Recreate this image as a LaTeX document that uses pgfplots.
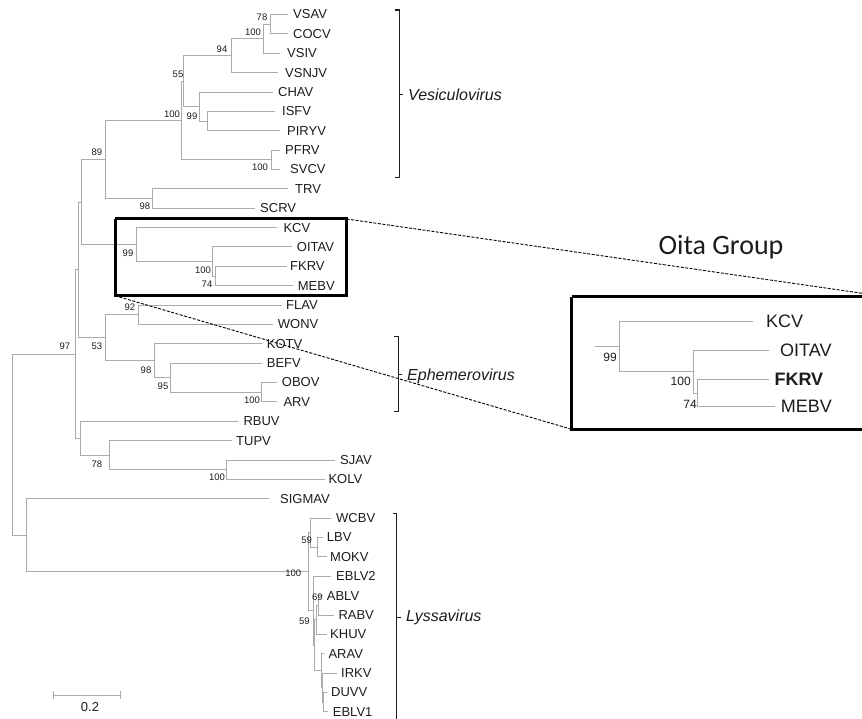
\documentclass[border=0pt]{standalone}
\usepackage{pgfplots}
\usepackage{pgfplotstable}
\pgfplotsset{compat=1.18}
\usepackage{fontspec}
\setmainfont{Liberation Sans}
\newfontfamily\carlito{Carlito}
\definecolor{branch}{HTML}{ABABAB}
\definecolor{ink}{HTML}{1C1C1C}

% tree branches: one elbow per internal node, separated by nan
\pgfplotstableread{
x y
288 14.5
270 14.5
270 33.9
288 33.9
nan nan
270 24.2
263.3 24.2
263.3 53.2
280 53.2
nan nan
263.3 38.7
231 38.7
231 72.6
278 72.6
nan nan
275 111.4
207.3 111.4
207.3 130.7
280 130.7
nan nan
273 92
199.3 92
199.3 121.05
207.3 121.05
nan nan
231 55.65
183.3 55.65
183.3 106.5
199.3 106.5
nan nan
280 150.1
271.7 150.1
271.7 169.5
280 169.5
nan nan
183.3 81.1
181.7 81.1
181.7 159.8
271.7 159.8
nan nan
288 188.8
152.7 188.8
152.7 208.2
255 208.2
nan nan
181.7 120.45
105 120.45
105 198.5
152.7 198.5
nan nan
286.7 266.3
215 266.3
215 285.7
293.3 285.7
nan nan
291.7 246.9
212 246.9
212 276
215 276
nan nan
276.7 227.6
136.7 227.6
136.7 261.45
212 261.45
nan nan
105 159.5
81 159.5
81 244.5
136.7 244.5
nan nan
281.7 305.1
138.3 305.1
138.3 324.4
273.3 324.4
nan nan
276.7 382.5
261.7 382.5
261.7 401.9
276.7 401.9
nan nan
261.7 363.2
170.7 363.2
170.7 392.2
261.7 392.2
nan nan
261.7 343.8
154.3 343.8
154.3 377.7
170.7 377.7
nan nan
138.3 314.75
105.3 314.75
105.3 360.75
154.3 360.75
nan nan
81 202
78.3 202
78.3 337.75
105.3 337.75
nan nan
335 460
226.7 460
226.7 479.4
325 479.4
nan nan
231.7 440.6
109.3 440.6
109.3 469.7
226.7 469.7
nan nan
238.3 421.3
80 421.3
80 455.15
109.3 455.15
nan nan
78.3 269.9
75 269.9
75 438.2
80 438.2
nan nan
322.7 537.5
317 537.5
317 556.9
326.7 556.9
nan nan
330.7 518.1
310 518.1
310 547.2
317 547.2
nan nan
323.3 595.6
318 595.6
318 615
334 615
nan nan
318 605.3
316 605.3
316 634.4
326.7 634.4
nan nan
326.7 692.5
323.3 692.5
323.3 711.8
328.3 711.8
nan nan
336.7 673.1
322.7 673.1
322.7 702.15
323.3 702.15
nan nan
324 653.7
321.7 653.7
321.7 687.6
322.7 687.6
nan nan
316 619.85
314.5 619.85
314.5 670.65
321.7 670.65
nan nan
330.7 576.2
313 576.2
313 645.25
314.5 645.25
nan nan
310 532.65
308.3 532.65
308.3 610.7
313 610.7
nan nan
269.3 498.8
26 498.8
26 571.7
308.3 571.7
nan nan
75 354.05
12.3 354.05
12.3 535.25
26 535.25
nan nan
769.3 379.3
697.7 379.3
697.7 406.7
775 406.7
nan nan
769.3 350.7
693.3 350.7
693.3 393
697.7 393
nan nan
753.3 321.7
619.3 321.7
619.3 371.85
693.3 371.85
nan nan
619.3 346.8
595 346.8
nan nan
53.3 695
120 695
nan nan
53.3 691
53.3 699
nan nan
120 691
120 699
}\branches

\pgfplotstableread{
x y label
293 14.5 VSAV
293 33.9 COCV
287 53.2 VSIV
285 72.6 VSNJV
278 92 CHAV
282 111.4 ISFV
287 130.7 PIRYV
285 150.1 PFRV
290 169.5 SVCV
295 188.8 TRV
260 208.2 SCRV
283.3 227.6 KCV
296.7 246.9 OITAV
290 266.3 FKRV
297.7 285.7 MEBV
286 305.1 FLAV
277.7 324.4 WONV
266.7 343.8 KOTV
266.7 363.2 BEFV
281.7 382.5 OBOV
283.3 401.9 ARV
243.3 421.3 RBUV
236 440.6 TUPV
340 460 SJAV
328.3 479.4 KOLV
280 498.8 SIGMAV
336 518.1 WCBV
326.7 537.5 LBV
330 556.9 MOKV
336 576.2 EBLV2
326.7 595.6 ABLV
338.3 615 RABV
330 634.4 KHUV
328.3 653.7 ARAV
341 673.1 IRKV
331 692.5 DUVV
332.7 711.8 EBLV1
}\leaves

\pgfplotstableread{
x y label
262 17 78
253 32 100
222 49 94
178 74 55
172 114 100
192 116 99
97 152 89
260 167 100
145 206 98
128 253.3 99
203 270 100
207 284 74
130 307.3 92
97 346.7 53
146 370 98
163 386 95
252 400.7 100
65 346.7 97
97 464 78
217 477.7 100
306.7 540 59
293.3 573 100
317.3 597.7 69
304.3 621 59
}\boots

\begin{document}
\begin{tikzpicture}
\begin{axis}[name=ax, scale only axis, width=862pt, height=719pt,
  xmin=0, xmax=862, ymin=0, ymax=719, y dir=reverse, hide axis,
  unbounded coords=jump]
% branches
\addplot[color=branch, line width=0.9pt, mark=none] table[x=x,y=y] {\branches};
% brackets
\addplot[color=ink, line width=1.3pt, mark=none] coordinates {(395,10) (399.3,10) (399.3,177.7) (395,177.7)};
\addplot[color=ink, line width=1.0pt, mark=none] coordinates {(399.3,95) (403,95)};
\addplot[color=ink, line width=1.3pt, mark=none] coordinates {(394,336.7) (398.3,336.7) (398.3,411.7) (394,411.7)};
\addplot[color=ink, line width=1.0pt, mark=none] coordinates {(398.3,374) (402,374)};
\addplot[color=ink, line width=1.3pt, mark=none] coordinates {(392.5,513.3) (396.7,513.3) (396.7,725)};
\addplot[color=ink, line width=1.0pt, mark=none] coordinates {(396.7,617.3) (400.5,617.3)};
% boxes
\addplot[color=black, line width=3pt, mark=none] coordinates {(115,219) (346.7,219) (346.7,295.7) (115,295.7) (115,219)};
\addplot[color=black, line width=3pt, mark=none] coordinates {(571.7,296.7) (890,296.7) (890,429.3) (571.7,429.3) (571.7,296.7)};
% dashed connectors
\addplot[color=black, line width=0.9pt, dash pattern=on 3pt off 1.5pt, mark=none] coordinates {(346.7,219) (886,296.7)};
\addplot[color=black, line width=0.9pt, dash pattern=on 3pt off 1.5pt, mark=none] coordinates {(115,295.7) (571.7,429.3)};
% leaf labels
\addplot[draw=none, mark=none, nodes near coords, point meta=explicit symbolic,
  nodes near coords style={anchor=west, inner sep=0pt, text=ink, font=\fontsize{13}{15}\selectfont}]
  table[x=x,y=y,meta=label] {\leaves};
% bootstrap values
\addplot[draw=none, mark=none, nodes near coords, point meta=explicit symbolic,
  nodes near coords style={anchor=center, inner sep=0pt, text=ink, font=\fontsize{9.5}{11}\selectfont}]
  table[x=x,y=y,meta=label] {\boots};
% group names
\addplot[draw=none, mark=none, nodes near coords, point meta=explicit symbolic,
  nodes near coords style={anchor=west, inner sep=0pt, text=ink, font=\fontsize{16}{18}\selectfont\itshape}]
  table[x=x,y=y,meta=label] {
x y label
408 95 Vesiculovirus
407 376 Ephemerovirus
406 617.3 Lyssavirus
};
% inset labels
\addplot[draw=none, mark=none, nodes near coords, point meta=explicit symbolic,
  nodes near coords style={anchor=west, inner sep=0pt, text=ink, font=\fontsize{18}{20}\selectfont}]
  table[x=x,y=y,meta=label] {
x y label
766 321.7 KCV
780 350.7 OITAV
780.7 406.7 MEBV
};
\addplot[draw=none, mark=none, nodes near coords, point meta=explicit symbolic,
  nodes near coords style={anchor=west, inner sep=0pt, text=ink, font=\fontsize{18}{20}\selectfont\bfseries}]
  table[x=x,y=y,meta=label] {
x y label
774.3 379.3 FKRV
};
\addplot[draw=none, mark=none, nodes near coords, point meta=explicit symbolic,
  nodes near coords style={anchor=center, inner sep=0pt, text=ink, font=\fontsize{12}{14}\selectfont}]
  table[x=x,y=y,meta=label] {
x y label
610 357.7 99
680.7 381.7 100
690 404 74
};
% title of inset and scale label
\addplot[draw=none, mark=none, nodes near coords, point meta=explicit symbolic,
  nodes near coords style={anchor=center, inner sep=0pt, text=ink, font=\carlito\fontsize{28}{32}\selectfont}]
  table[x=x,y=y,meta=label,col sep=comma] {
x,y,label
721,246.7,Oita Group
};
\addplot[draw=none, mark=none, nodes near coords, point meta=explicit symbolic,
  nodes near coords style={anchor=center, inner sep=0pt, text=ink, font=\fontsize{13}{15}\selectfont}]
  table[x=x,y=y,meta=label] {
x y label
90 707 0.2
};
\end{axis}
\pgfresetboundingbox
\useasboundingbox (ax.south west) rectangle (ax.north east);
\end{tikzpicture}
\end{document}
